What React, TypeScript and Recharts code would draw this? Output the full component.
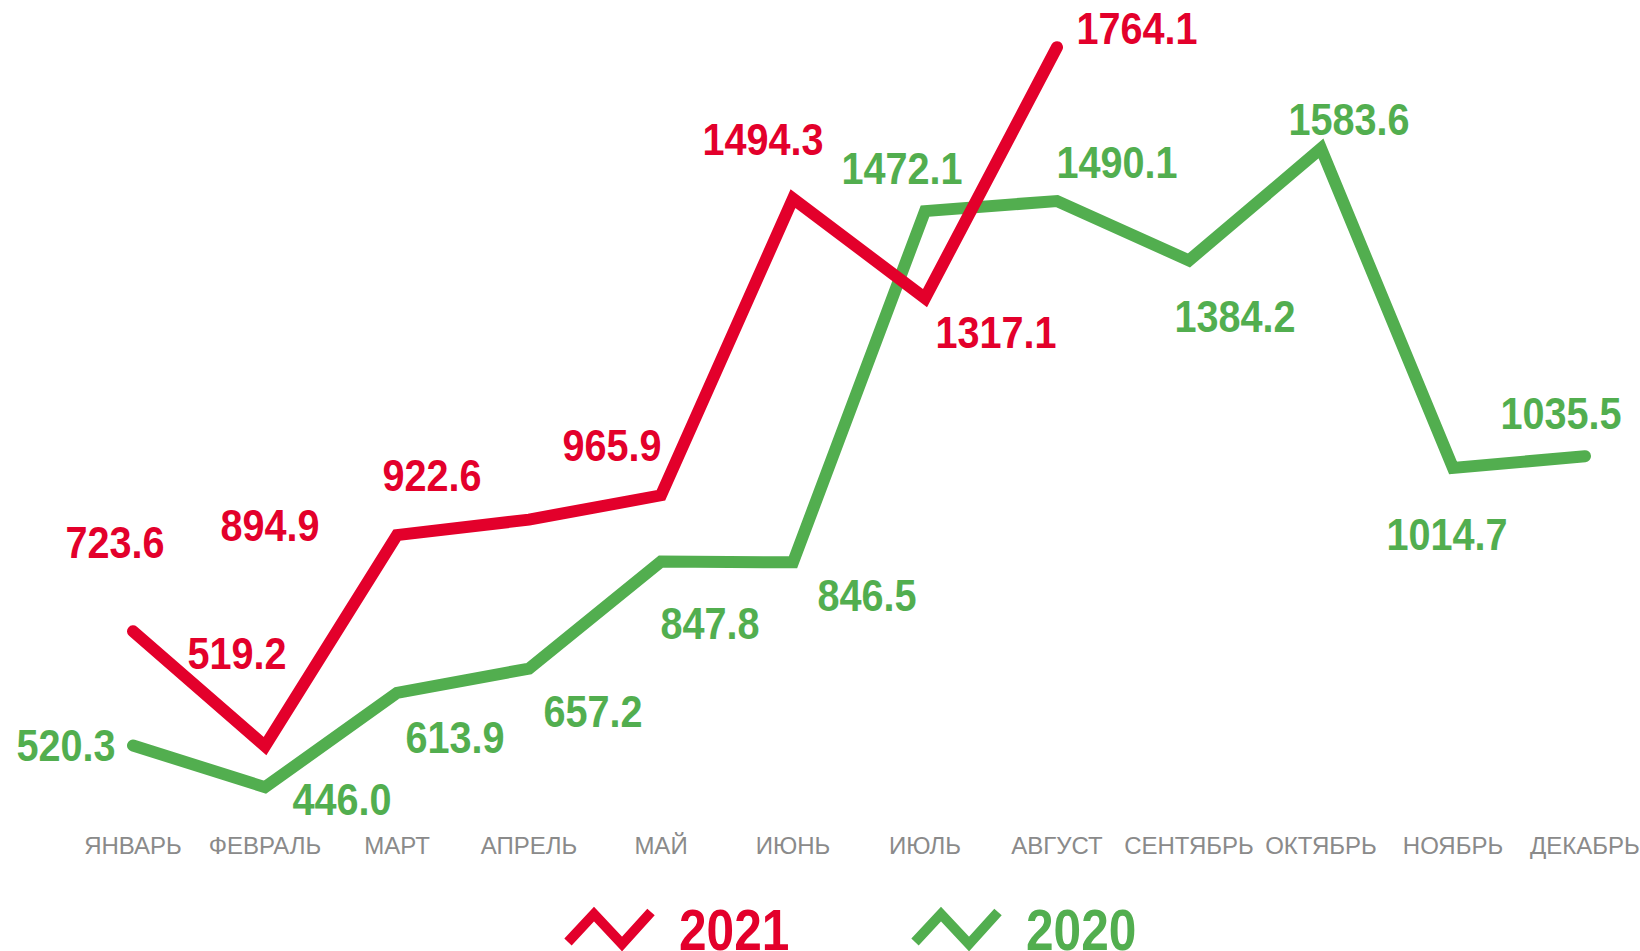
import { LineChart, Line, XAxis, YAxis, LabelList } from "recharts";

const months = [
  "ЯНВАРЬ", "ФЕВРАЛЬ", "МАРТ", "АПРЕЛЬ", "МАЙ", "ИЮНЬ",
  "ИЮЛЬ", "АВГУСТ", "СЕНТЯБРЬ", "ОКТЯБРЬ", "НОЯБРЬ", "ДЕКАБРЬ",
];
const values2021 = [723.6, 519.2, 894.9, 922.6, 965.9, 1494.3, 1317.1, 1764.1];
const values2020 = [520.3, 446.0, 613.9, 657.2, 847.8, 846.5, 1472.1, 1490.1, 1384.2, 1583.6, 1014.7, 1035.5];
const years = ["2021", "2020"];

// label nudges (px) relative to each point, the original places them by hand
const offsets2021 = [[-18, -89], [-28, -92], [-127, -9], [-97, -44], [-49, -50], [-30, -59], [71, 35], [80, -18]];
const offsets2020 = [[-67, 0], [77, 13], [58, 45], [64, 43], [49, 62], [74, 33], [-23, -42], [60, -38], [46, 56], [28, -29], [-6, 67], [-24, -42]];

const RED = "#e3002b";
const GREEN = "#52ae4f";
const FONT = "'Liberation Sans', Arial, sans-serif";

const data = months.map((m, i) => ({
  month: m,
  y2021: i < values2021.length ? values2021[i] : null,
  y2020: values2020[i],
}));

// slightly condensed bold figures, squeezed by hand
const valueLabel = (offsets: number[][], color: string) => (props: any) => {
  const { x, y, index, value } = props;
  if (value == null || x == null || y == null) return null;
  const [dx, dy] = offsets[index] || [0, -40];
  return (
    <text
      transform={`translate(${x + dx} ${y + dy}) scale(0.9 1)`}
      textAnchor="middle"
      dominantBaseline="central"
      fill={color}
      fontFamily={FONT}
      fontWeight="bold"
      fontSize={44}
    >
      {Number(value).toFixed(1)}
    </text>
  );
};

function MonthTick(props: any) {
  const { x, y, payload } = props;
  return (
    <text
      x={x}
      y={y + 32}
      textAnchor="middle"
      dominantBaseline="central"
      fill="#8a8a8a"
      fontFamily={FONT}
      fontSize={24}
    >
      {payload.value}
    </text>
  );
}

function YearLegend() {
  const colors = [RED, GREEN];
  const starts = [565, 912];
  return (
    <svg width={1640} height={51} style={{ position: "absolute", left: 0, top: 900, display: "block" }}>
      {years.map((label, i) => {
        const x0 = starts[i];
        return (
          <g key={label}>
            <polyline
              points={`${x0 + 3},42 ${x0 + 29},14 ${x0 + 57},44 ${x0 + 86},12`}
              fill="none"
              stroke={colors[i]}
              strokeWidth={10}
              strokeLinejoin="miter"
            />
            <text
              transform={`translate(${x0 + 114} 50) scale(0.87 1)`}
              fill={colors[i]}
              fontFamily={FONT}
              fontWeight="bold"
              fontSize={57}
            >
              {label}
            </text>
          </g>
        );
      })}
    </svg>
  );
}

export default function App() {
  return (
    <div style={{ position: "absolute", left: 0, top: 0, width: 1640, height: 951, background: "#fff", overflow: "hidden" }}>
      <style>{"body{margin:0;overflow:hidden}"}</style>
      <LineChart
        width={1640}
        height={951}
        data={data}
        margin={{ top: 27, right: 55, bottom: 108, left: 133 }}
      >
        <XAxis
          dataKey="month"
          height={30}
          axisLine={false}
          tickLine={false}
          tickSize={0}
          tickMargin={0}
          interval={0}
          tick={<MonthTick />}
        />
        <YAxis hide domain={[400, 1800]} />
        <Line
          dataKey="y2020"
          stroke={GREEN}
          strokeWidth={12}
          strokeLinecap="round"
          strokeLinejoin="miter"
          dot={false}
          activeDot={false}
          isAnimationActive={false}
        >
          <LabelList dataKey="y2020" content={valueLabel(offsets2020, GREEN)} />
        </Line>
        <Line
          dataKey="y2021"
          stroke={RED}
          strokeWidth={12}
          strokeLinecap="round"
          strokeLinejoin="miter"
          dot={false}
          activeDot={false}
          isAnimationActive={false}
        >
          <LabelList dataKey="y2021" content={valueLabel(offsets2021, RED)} />
        </Line>
      </LineChart>
      <YearLegend />
    </div>
  );
}
